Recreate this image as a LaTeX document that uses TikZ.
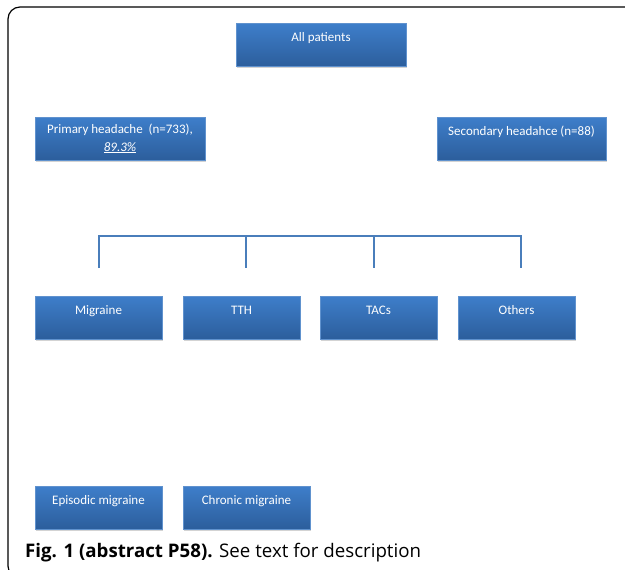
\documentclass[tikz,border=0pt]{standalone}
\usepackage{fontspec}
\setmainfont{Carlito}
\newfontfamily\capfont{Open Sans}
\usepackage{tikz}
\usetikzlibrary{calc, shadows, positioning}
\definecolor{boxtop}{RGB}{62,126,202}
\definecolor{boxbottom}{RGB}{44,94,156}
\definecolor{boxline}{RGB}{96,146,206}
\definecolor{bracketblue}{RGB}{74,126,187}
\tikzset{
    boxnode/.style = {draw=boxline, line width=0.5pt, rectangle, top color=boxtop, bottom color=boxbottom,
      text=white, font=\fontsize{13}{18}\selectfont, align=center, inner ysep=0pt,
      text height=18pt, text depth=25pt, minimum height=43pt, node distance=0em,
      drop shadow={opacity=0.35, shadow xshift=1pt, shadow yshift=-1.5pt}},
    widebox/.style = {boxnode, minimum width=170pt},
    midbox/.style = {boxnode, minimum width=127pt},
    narrowbox/.style = {boxnode, minimum width=117pt},
    bracket/.style = {draw=bracketblue, line width=2.6pt, line join=miter},
    textnode/.style = {draw=none, fill=none, rectangle, inner sep=0em, node distance=0em}
}

\begin{document}
\begin{tikzpicture}[x=1pt, y=1pt]
\useasboundingbox (0,0) rectangle (625,-570);
\draw[line width=1.2pt, rounded corners=12pt] (40,-578) -- (8,-578) -- (8,-7) -- (640,-7);

\node [widebox, name = allpat] at (321,-45) {All patients};

\node [widebox, name = primary, below of = allpat, xshift=-201pt, yshift=-93.5pt,
       text height=34pt, text depth=9pt]
    {Primary headache\ \ (n=733),\\\underline{\textit{89.3\%}}};
\node [boxnode, minimum width=169pt, name = secondary, right of = primary, xshift=401.5pt]
    {Secondary headahce (n=88)};

\node [midbox, name = migraine, below of = primary, xshift=-21.5pt, yshift=-179pt] {Migraine};
\node [narrowbox, name = tth, right of = migraine, xshift=143pt] {TTH};
\node [narrowbox, name = tacs, right of = tth, xshift=137pt] {TACs};
\node [narrowbox, name = others, right of = tacs, xshift=138pt] {Others};

\node [midbox, name = episodic, below of = migraine, yshift=-190pt] {Episodic migraine};
\node [midbox, name = chronic, right of = episodic, xshift=148pt] {Chronic migraine};

% bracket over the primary headache types
\foreach \x/\n in {99/a, 246/b, 374/c, 521/d} {
    \coordinate (top\n) at (\x,-236);
    \coordinate (foot\n) at (\x,-268);
}
\draw [bracket] (foota) -- (topa) -- (topd) -- (footd);
\draw [bracket] (topb) -- (footb);
\draw [bracket] (topc) -- (footc);

\node [textnode, name = caption, anchor=base west] at (25,-557)
    {\capfont\fontsize{18.7}{22}\selectfont\textbf{Fig. 1 (abstract P58).} See text for description};
\end{tikzpicture}
\end{document}
